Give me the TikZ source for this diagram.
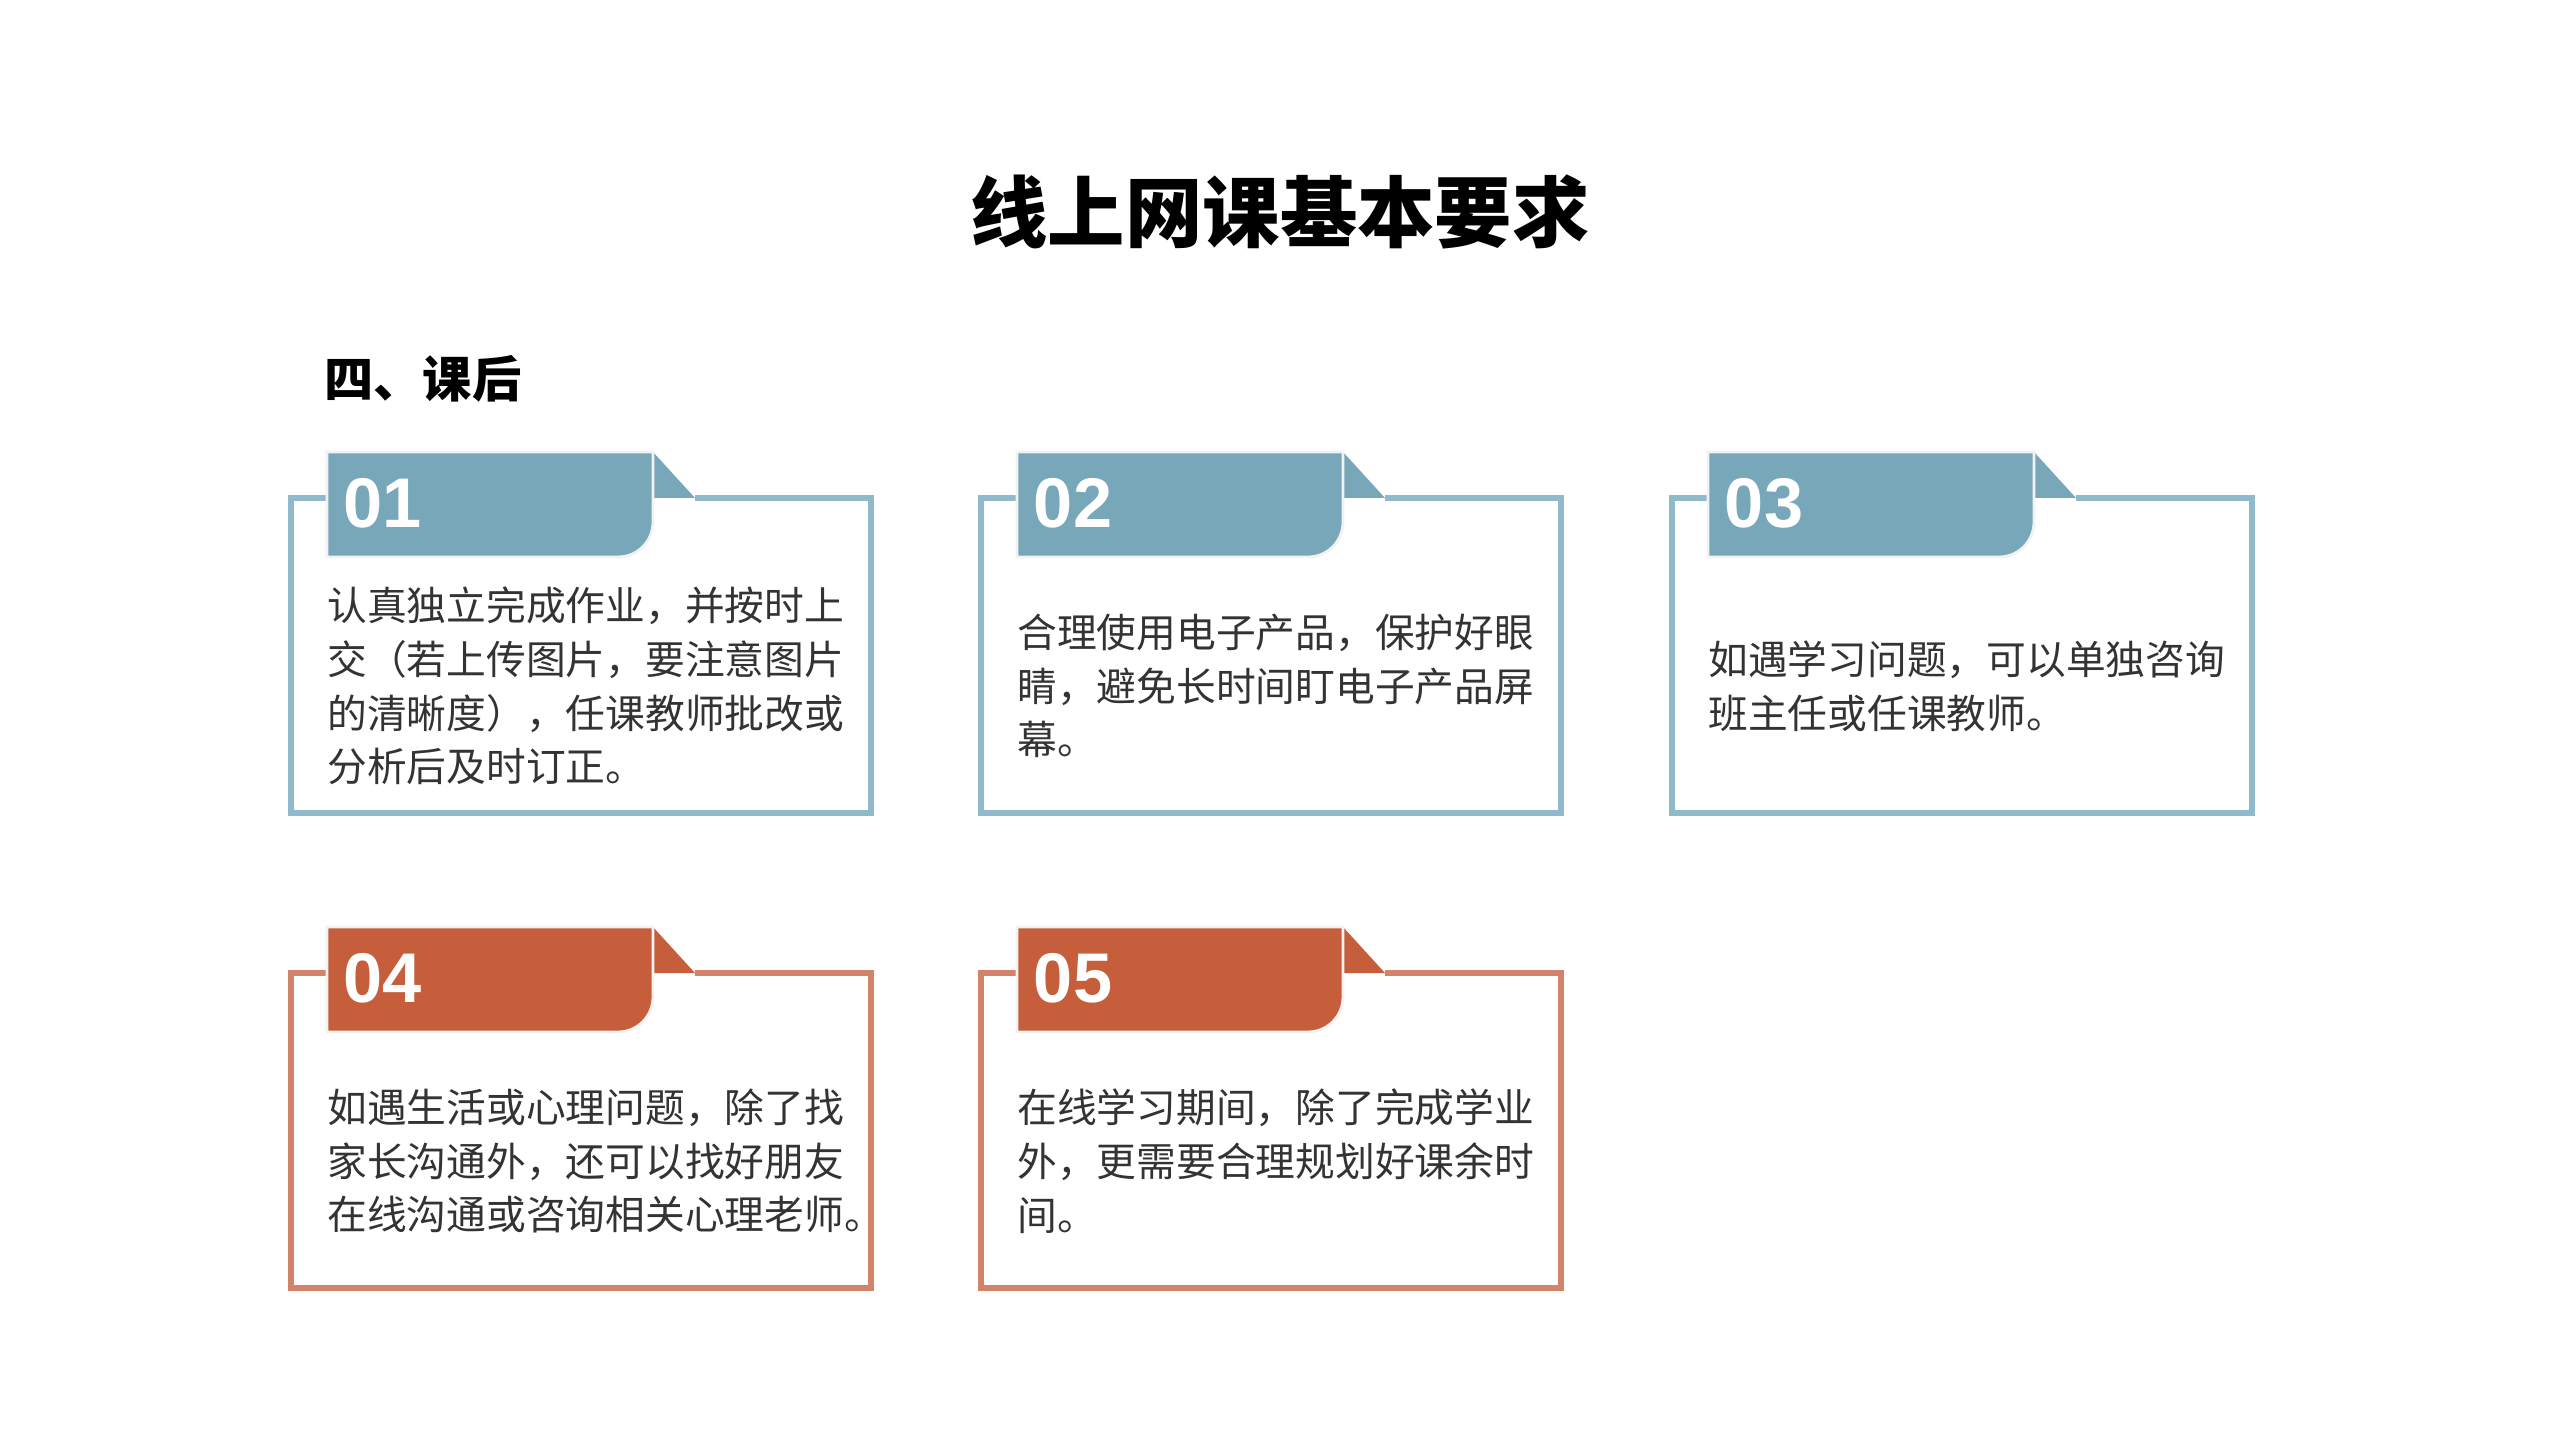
\documentclass[tikz,border=0pt]{standalone}
\usepackage{fontspec}
\setmainfont{Noto Sans CJK SC}
\newfontfamily\numfont{Liberation Sans}
\usetikzlibrary{positioning}

\definecolor{bluetab}{HTML}{78A7BA}
\definecolor{blueline}{HTML}{90BACB}
\definecolor{redtab}{HTML}{C65E3B}
\definecolor{redline}{HTML}{D4836B}

\tikzset{
  cardline/.style={line width=1.8pt},
  numtext/.style={text=white, font=\numfont\bfseries\fontsize{20}{20}\selectfont, anchor=center},
  bodytext/.style={anchor=west, align=left, font=\fontsize{11.3}{15.3}\selectfont, text=black!80}
}

% one card: x, y (top of box), tab colour, line colour, name, number, text
\newcommand{\card}[7]{
  \draw[cardline, draw=#4] (#1+36,#2) -- (#1,#2) -- (#1,#2+315) -- (#1+580,#2+315) -- (#1+580,#2) -- (#1+404,#2);
  \fill[#3] (#1+362,#2-46) -- (#1+404,#2) -- (#1+362,#2) -- cycle;
  \filldraw[fill=#3, draw=white!95!black, line width=0.8pt]
    (#1+36,#2-46) -- (#1+362,#2-46) -- (#1+362,#2+24) to[out=-90, in=0] (#1+327,#2+59) -- (#1+36,#2+59) -- cycle;
  \node[numtext] (#5num) at (#1+92,#2+5) {#6};
  \node[bodytext] (#5text) at (#1+24,#2+188) {#7};
}

\begin{document}
\begin{tikzpicture}[x=0.01cm, y=-0.01cm]
  \useasboundingbox (0,0) rectangle (2560,1440);

  % title
  \node[font=\bfseries\fontsize{22}{22}\selectfont] (title) at (1280,212) {线上网课基本要求};
  \node[font=\bfseries\fontsize{14}{14}\selectfont, anchor=west] (sub) at (312,379) {四、课后};

  % cards
  \card{291}{498}{bluetab}{blueline}{one}{01}{认真独立完成作业，并按时上\\交（若上传图片，要注意图片\\的清晰度），任课教师批改或\\分析后及时订正。}
  \card{981}{498}{bluetab}{blueline}{two}{02}{合理使用电子产品，保护好眼\\睛，避免长时间盯电子产品屏\\幕。}
  \card{1672}{498}{bluetab}{blueline}{three}{03}{如遇学习问题，可以单独咨询\\班主任或任课教师。}
  \card{291}{973}{redtab}{redline}{four}{04}{如遇生活或心理问题，除了找\\家长沟通外，还可以找好朋友\\在线沟通或咨询相关心理老师。}
  \card{981}{973}{redtab}{redline}{five}{05}{在线学习期间，除了完成学业\\外，更需要合理规划好课余时\\间。}
\end{tikzpicture}
\end{document}
